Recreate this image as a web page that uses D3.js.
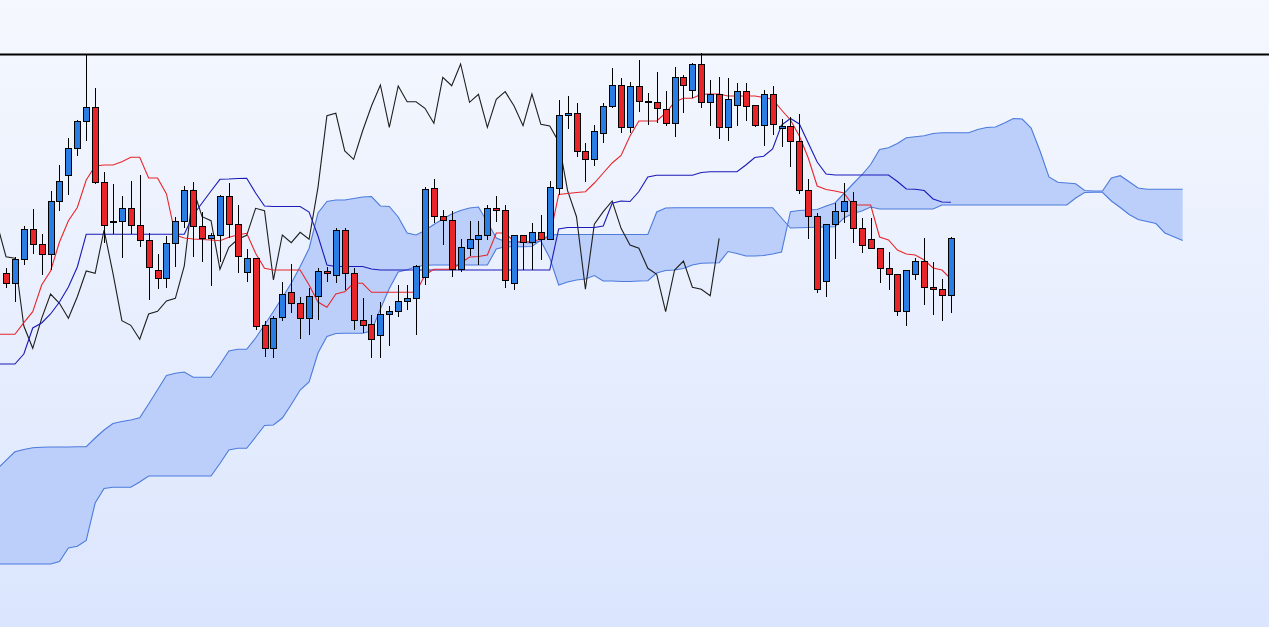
<!DOCTYPE html>
<html>
<head>
<meta charset="utf-8">
<script src="https://cdn.jsdelivr.net/npm/d3@7"></script>
<style>
html, body { margin: 0; padding: 0; overflow: hidden; background: #eaf0fd; }
#chart { width: 1269px; height: 627px; }
</style>
</head>
<body>
<div id="chart"></div>
<script>
// candles, one per bar (index 0..106)
var opens = [
    142.67, 141.67, 144.07, 147.07, 145.57, 144.57, 149.83, 152.43, 155.17, 157.9,
    159.27, 151.77, 147.83, 147.83, 149.17, 147.5, 146.0, 143.0, 142.17, 145.67,
    147.9, 150.93, 147.33, 146.17, 146.43, 150.33, 147.6, 142.77, 144.17, 137.43,
    135.17, 138.27, 140.77, 139.67, 138.17, 140.33, 142.9, 142.5, 147.0, 142.67,
    137.93, 137.6, 136.43, 138.57, 138.83, 139.87, 140.17, 142.27, 151.17, 148.33,
    147.93, 143.07, 145.17, 146.07, 146.5, 149.17, 148.93, 141.67, 146.43, 145.73,
    146.77, 146.07, 151.17, 158.43, 158.67, 154.83, 154.07, 156.67, 159.4, 161.5,
    157.27, 161.4, 159.83, 159.77, 159.1, 157.67, 162.27, 161.0, 163.6, 159.77,
    160.57, 157.27, 159.5, 160.83, 159.5, 157.43, 160.57, 157.17, 157.4, 155.9,
    150.93, 148.4, 141.83, 147.57, 148.83, 149.9, 147.17, 146.07, 145.17, 143.17,
    142.57, 138.83, 142.57, 143.9, 141.27, 141.1, 140.43
];
var highs = [
    143.2, 144.33, 147.4, 149.07, 146.6, 150.9, 153.5, 156.17, 158.0, 164.5,
    161.17, 152.77, 151.6, 150.4, 151.9, 152.5, 146.7, 144.6, 146.4, 148.33,
    151.4, 151.83, 148.83, 146.67, 150.5, 151.67, 149.5, 145.1, 144.17, 137.93,
    138.43, 141.83, 143.6, 140.33, 141.17, 143.17, 143.33, 147.17, 147.2, 143.17,
    140.17, 138.5, 139.83, 139.4, 141.5, 141.5, 143.5, 151.33, 152.07, 149.0,
    148.93, 146.07, 147.9, 147.9, 149.5, 150.4, 149.5, 146.5, 146.5, 147.73,
    148.5, 151.9, 160.0, 160.4, 159.73, 155.73, 157.5, 159.67, 163.17, 162.17,
    161.83, 164.0, 160.67, 162.83, 160.9, 163.27, 162.5, 163.73, 164.73, 162.0,
    162.27, 162.17, 161.73, 161.67, 159.5, 161.0, 161.4, 158.1, 158.33, 158.6,
    152.07, 148.67, 147.57, 149.67, 151.67, 150.83, 148.23, 148.17, 145.17, 144.83,
    142.57, 143.0, 144.17, 146.17, 143.83, 142.07, 146.33
];
var lows = [
    141.2, 139.77, 143.5, 144.6, 142.5, 143.0, 148.93, 150.5, 154.4, 155.93,
    151.57, 145.67, 146.57, 144.17, 146.57, 145.33, 140.0, 141.07, 141.2, 143.33,
    147.17, 144.33, 143.83, 141.4, 143.83, 146.17, 142.67, 141.83, 137.0, 134.33,
    134.17, 137.93, 138.73, 136.07, 136.5, 138.0, 141.83, 141.67, 141.0, 137.0,
    136.67, 134.17, 134.17, 135.4, 138.33, 139.0, 136.5, 141.5, 147.67, 145.5,
    142.27, 142.83, 144.4, 143.5, 146.0, 147.83, 141.17, 141.0, 143.0, 143.0,
    144.0, 146.0, 150.5, 157.07, 154.27, 151.83, 153.4, 155.67, 159.17, 156.73,
    156.73, 158.83, 157.5, 157.67, 157.4, 156.33, 158.73, 160.17, 159.17, 157.4,
    156.1, 155.93, 157.4, 157.93, 157.33, 155.4, 156.5, 155.27, 153.33, 150.6,
    146.07, 140.67, 140.27, 144.1, 147.67, 145.73, 144.73, 145.07, 141.67, 141.0,
    138.4, 137.4, 142.0, 139.5, 138.5, 137.93, 138.73
];
var closes = [
    141.67, 144.07, 147.07, 145.57, 144.57, 149.83, 151.9, 155.17, 157.9, 159.27,
    151.77, 147.5, 147.83, 149.17, 147.5, 146.0, 143.27, 142.17, 145.67, 147.9,
    150.93, 147.4, 146.17, 146.43, 150.33, 147.6, 144.33, 144.17, 137.4, 135.17,
    138.17, 140.6, 139.67, 138.17, 140.33, 142.9, 142.67, 147.0, 142.67, 137.93,
    137.47, 136.07, 138.6, 138.87, 139.9, 140.17, 143.4, 151.07, 148.33, 147.93,
    143.07, 145.27, 146.07, 146.47, 149.17, 148.93, 142.0, 146.5, 145.73, 146.77,
    146.07, 151.27, 158.43, 158.67, 154.9, 154.07, 156.9, 159.4, 161.5, 157.27,
    161.4, 159.83, 159.83, 159.17, 157.67, 162.27, 161.43, 163.6, 159.77, 160.57,
    157.27, 160.07, 160.83, 159.4, 157.43, 160.6, 157.57, 157.4, 155.83, 150.93,
    148.33, 141.07, 147.57, 148.83, 149.9, 147.17, 145.5, 145.17, 143.17, 142.57,
    138.83, 143.0, 143.9, 141.27, 141.07, 140.43, 146.17
];

// conversion / base lines, index -1..106
var tenkan = [
    136.57, 136.57, 136.57, 137.73, 138.83, 141.5, 142.9, 145.8, 147.93, 149.25,
    152.0, 153.4, 153.5, 153.5, 153.83, 154.27, 154.27, 152.2, 152.2, 150.6,
    146.5, 146.2, 146.1, 146.05, 146.0, 145.93, 146.27, 146.5, 146.67, 144.67,
    143.17, 143.0, 143.0, 143.0, 143.0, 141.5, 139.8, 139.27, 140.6, 140.83,
    141.67, 141.67, 140.77, 140.77, 140.77, 140.77, 140.77, 140.77, 142.5, 143.07,
    143.07, 143.07, 143.67, 144.3, 144.35, 144.5, 146.7, 146.7, 145.83, 145.83,
    145.83, 146.1, 146.3, 150.55, 150.65, 150.75, 150.83, 151.7, 152.7, 153.7,
    154.45, 156.4, 157.9, 157.9, 157.9, 158.7, 159.8, 160.17, 160.17, 160.57,
    160.6, 160.6, 160.4, 160.4, 160.4, 160.4, 160.25, 160.07, 159.0, 158.0,
    156.4, 154.2, 151.4, 151.05, 150.9, 150.7, 149.5, 149.5, 149.5, 146.3,
    146.0, 145.0, 144.6, 144.5, 144.0, 143.2, 143.0, 142.1
];
var kijun = [
    133.6, 133.6, 133.6, 134.6, 137.2, 137.7, 138.6, 139.8, 141.3, 143.3,
    146.57, 146.57, 146.57, 146.57, 146.57, 146.57, 146.57, 146.57, 146.57, 146.57,
    146.57, 146.57, 148.5, 149.7, 150.9, 152.07, 152.1, 152.15, 152.17, 150.7,
    149.4, 149.35, 149.35, 149.35, 149.35, 148.8, 146.4, 143.5, 143.35, 143.35,
    143.35, 143.35, 143.1, 143.0, 143.0, 143.0, 143.0, 143.0, 143.0, 143.0,
    143.0, 143.0, 143.0, 143.0, 143.0, 143.0, 143.0, 143.0, 143.0, 143.0,
    143.0, 143.0, 143.0, 147.1, 147.25, 147.25, 147.25, 147.25, 147.4, 149.67,
    149.9, 149.85, 150.85, 152.3, 152.48, 152.48, 152.48, 152.48, 152.48, 152.75,
    152.83, 152.83, 152.83, 152.83, 153.5, 154.25, 154.38, 155.1, 157.5, 158.15,
    157.6, 155.7, 153.8, 152.6, 152.5, 152.5, 152.5, 152.5, 152.5, 152.5,
    152.5, 151.85, 151.1, 151.07, 150.95, 150.1, 149.8, 149.77
];

// leading spans (cloud), index -1..132
var spanA = [
    123.1, 123.97, 124.82, 125.05, 125.23, 125.27, 125.3, 125.3, 125.3, 125.32,
    125.33, 126.2, 127.0, 127.65, 127.85, 128.0, 128.23, 129.6, 131.03, 132.45,
    132.67, 132.8, 132.27, 132.27, 132.27, 133.55, 134.9, 135.07, 135.07, 136.2,
    137.5, 138.85, 140.25, 141.67, 143.35, 145.15, 148.7, 149.85, 150.0, 150.0,
    150.15, 150.3, 150.35, 149.4, 149.35, 148.3, 146.7, 146.5, 146.95, 147.55,
    148.1, 148.6, 148.95, 149.2, 149.3, 147.8, 146.2, 145.85, 145.8, 145.75,
    145.7, 145.9, 144.2, 141.5, 141.8, 142.0, 142.1, 142.45, 141.9, 141.9,
    141.85, 141.85, 141.9, 141.93, 142.7, 142.95, 143.0, 143.15, 143.5, 143.68,
    143.7, 143.73, 144.85, 144.65, 144.4, 144.4, 144.45, 144.6, 144.8, 148.83,
    148.95, 149.0, 149.05, 149.4, 149.7, 150.65, 151.6, 152.5, 153.55, 155.05,
    155.22, 155.65, 156.22, 156.32, 156.42, 156.65, 156.73, 156.73, 156.73, 156.73,
    157.05, 157.25, 157.3, 157.7, 158.15, 158.1, 157.2, 154.9, 152.3, 151.78,
    151.7, 151.63, 150.95, 150.9, 150.9, 152.2, 152.43, 151.82, 151.2, 151.07,
    151.07, 151.07, 151.07, 151.07
];
var spanB = [
    113.6, 113.6, 113.6, 113.6, 113.6, 113.6, 113.6, 113.85, 115.2, 115.37,
    115.95, 119.7, 121.15, 121.27, 121.27, 121.27, 121.8, 122.4, 122.4, 122.4,
    122.4, 122.4, 122.4, 122.4, 122.4, 123.65, 125.0, 125.17, 125.17, 126.3,
    127.45, 127.5, 128.2, 129.55, 131.0, 131.8, 134.7, 136.35, 136.65, 136.67,
    136.67, 136.67, 136.9, 139.1, 141.15, 142.8, 143.03, 143.33, 143.48, 143.5,
    143.5, 143.5, 143.5, 143.5, 143.5, 143.5, 145.1, 145.33, 145.33, 145.33,
    145.35, 146.0, 146.5, 146.55, 146.55, 146.55, 146.55, 146.55, 146.55, 146.55,
    146.55, 146.55, 146.55, 146.55, 148.8, 149.2, 149.23, 149.23, 149.23, 149.23,
    149.23, 149.23, 149.23, 149.23, 149.23, 149.23, 149.23, 149.23, 148.2, 147.2,
    147.22, 147.25, 147.28, 147.3, 147.32, 148.2, 148.65, 148.9, 149.3, 149.1,
    149.1, 149.1, 149.1, 149.1, 149.1, 149.1, 149.5, 149.5, 149.5, 149.5,
    149.5, 149.5, 149.5, 149.5, 149.5, 149.5, 149.5, 149.5, 149.5, 149.5,
    149.5, 150.2, 150.75, 150.77, 150.77, 149.9, 149.25, 148.55, 148.05, 147.85,
    147.65, 146.7, 146.33, 145.95
];

var priceLine = 164.55;   // the horizontal level across the top
var lagShift = 26;        // lagging span is the close drawn 26 bars back

var ichimokuChart = function(container, options) {
    var self = this;
    this.chart = document.getElementById(container);
    this.options = options;
    self.setProperties();

    this.svg = d3.select(this.chart).append("svg")
        .attr("width", this.cx)
        .attr("height", this.cy);
    self.draw();
}

ichimokuChart.prototype.setProperties = function() {
    this.cx = 1269;
    this.cy = 627;
    this.x = d3.scaleLinear()
        .domain([0, 106])
        .range([6, 950.9]);
    this.y = d3.scaleLinear()
        .domain([107.3, 170])
        .range([this.cy, 0]);
}

ichimokuChart.prototype.draw = function() {
    var self = this;
    var x = this.x, y = this.y;

    var grad = this.svg.append("defs").append("linearGradient")
        .attr("id", "bg").attr("x1", 0).attr("y1", 0).attr("x2", 0).attr("y2", 1);
    grad.append("stop").attr("offset", "0%").attr("stop-color", "#f5f8fe");
    grad.append("stop").attr("offset", "100%").attr("stop-color", "#dbe5fd");
    this.svg.append("rect")
        .attr("width", this.cx).attr("height", this.cy)
        .attr("fill", "url(#bg)");

    // cloud
    var cloud = spanA.map(function(a, k) { return { i: k - 1, a: a, b: spanB[k] }; });
    this.svg.append("path")
        .datum(cloud)
        .attr("fill", "#bccffb")
        .attr("d", d3.area()
            .x(function(d) { return x(d.i); })
            .y0(function(d) { return y(d.a); })
            .y1(function(d) { return y(d.b); }));
    ["a", "b"].forEach(function(key) {
        self.svg.append("path")
            .datum(cloud)
            .attr("fill", "none")
            .attr("stroke", "#4d7bdb")
            .attr("stroke-width", 1.1)
            .attr("d", d3.line()
                .x(function(d) { return x(d.i); })
                .y(function(d) { return y(d[key]); }));
    });

    // lagging span from the closes
    var lag = closes.map(function(c, k) { return { i: k - lagShift, v: c }; })
        .filter(function(d) { return d.i >= -1; });
    var line = d3.line()
        .x(function(d) { return x(d.i); })
        .y(function(d) { return y(d.v); });
    this.svg.append("path")
        .datum(lag)
        .attr("fill", "none")
        .attr("stroke", "#1e1e1e")
        .attr("stroke-width", 1.1)
        .attr("d", line);

    var asPoints = function(arr) { return arr.map(function(v, k) { return { i: k - 1, v: v }; }); };
    this.svg.append("path")
        .datum(asPoints(kijun))
        .attr("fill", "none")
        .attr("stroke", "#1a1ab8")
        .attr("stroke-width", 1.1)
        .attr("d", line);
    this.svg.append("path")
        .datum(asPoints(tenkan))
        .attr("fill", "none")
        .attr("stroke", "#e8262b")
        .attr("stroke-width", 1.1)
        .attr("d", line);

    this.svg.append("line")
        .attr("x1", 0).attr("x2", this.cx)
        .attr("y1", y(priceLine)).attr("y2", y(priceLine))
        .attr("stroke", "#000")
        .attr("stroke-width", 2);

    // candles
    var g = this.svg.append("g").attr("shape-rendering", "crispEdges");
    var bars = g.selectAll("g.bar").data(opens).enter().append("g").attr("class", "bar");
    bars.append("line")
        .attr("x1", function(d, i) { return Math.round(x(i)) + 0.5; })
        .attr("x2", function(d, i) { return Math.round(x(i)) + 0.5; })
        .attr("y1", function(d, i) { return y(highs[i]); })
        .attr("y2", function(d, i) { return y(lows[i]); })
        .attr("stroke", "#000");
    bars.append("rect")
        .attr("x", function(d, i) { return Math.round(x(i)) - 2.5; })
        .attr("width", 6)
        .attr("y", function(d, i) { return y(Math.max(d, closes[i])); })
        .attr("height", function(d, i) { return Math.max(0.5, Math.abs(y(d) - y(closes[i]))); })
        .attr("fill", function(d, i) { return closes[i] >= d ? "#2a7de2" : "#e8262a"; })
        .attr("stroke", "#000")
        .attr("stroke-width", 1);
}

var chart = new ichimokuChart("chart", {});
</script>
</body>
</html>
